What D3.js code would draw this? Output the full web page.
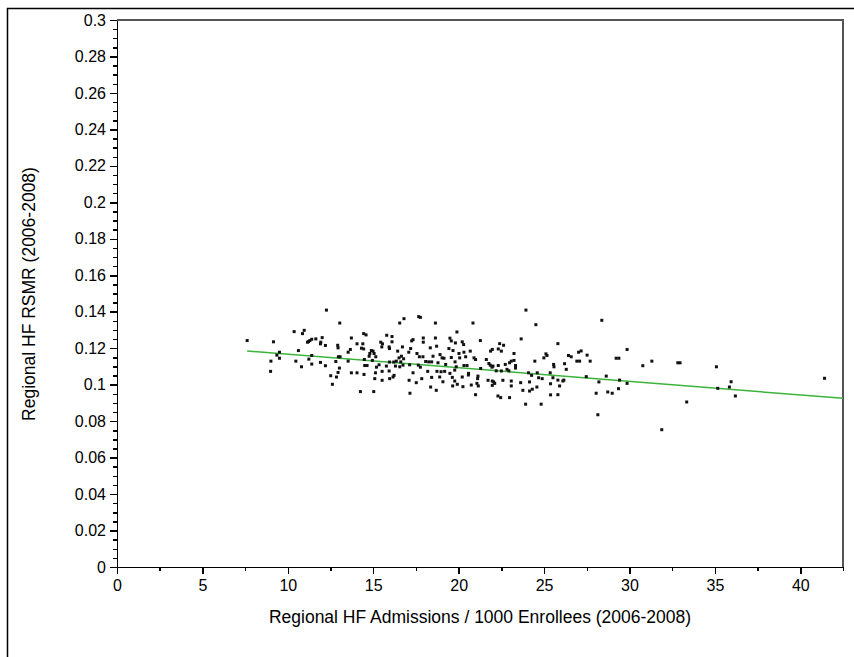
<!doctype html>
<html>
<head>
<meta charset="utf-8">
<title>Regional HF RSMR vs HF Admissions</title>
<script src="https://d3js.org/d3.v7.min.js"></script>
<style>
    body {margin:0; background:#fff;}
    svg {display:block;}
    text {font-family:"Liberation Sans", Arial, sans-serif; fill:#000;}
    .axis path, .axis line {stroke:#000; stroke-width:1.5px; shape-rendering:crispEdges;}
    .axis text {font-size:16px; font-family:"Liberation Sans", Arial, sans-serif;}
    .title {font-size:17.5px;}
</style>
</head>
<body>
<script>
"use strict";

// [admissions per 1000 enrollees, RSMR]
var regions = [
    [12.26,.1409],[13.04,.1338],[7.62,.1242],[9.16,.1235],[10.37,.1291],[10.96,.1298],[10.86,.1280],[11.40,.1249],
    [11.29,.1242],[11.15,.1233],[11.21,.1236],[11.64,.1251],[12.01,.1258],[11.93,.1233],[11.91,.1224],[12.20,.1215],
    [12.92,.1216],[12.94,.1202],[9.51,.1178],[9.36,.1162],[9.51,.1145],[10.62,.1187],[9.01,.1129],[10.47,.1129],
    [11.23,.1140],[11.40,.1160],[11.40,.1113],[10.80,.1098],[11.91,.1122],[12.20,.1104],[12.81,.1127],[12.96,.1153],
    [13.06,.1153],[13.02,.1091],[12.94,.1067],[12.51,.1049],[12.85,.1042],[12.61,.1002],[8.99,.1073],

    [16.55,.1338],[16.80,.1362],[17.66,.1373],[17.76,.1369],[18.64,.1338],
    [14.44,.1280],[14.58,.1273],[15.79,.1271],[16.10,.1264],[13.72,.1256],[17.33,.1247],[17.25,.1240],[17.93,.1256],
    [18.64,.1256],[19.49,.1255],[19.57,.1240],[19.90,.1289],[19.81,.1229],
    [15.44,.1233],[15.54,.1224],[16.10,.1235],[14.05,.1224],[14.39,.1224],[14.31,.1200],[14.44,.1196],[13.66,.1193],
    [13.53,.1178],[15.93,.1207],[15.50,.1207],[15.95,.1198],[16.71,.1207],[17.19,.1198],[17.93,.1233],[18.34,.1202],
    [18.71,.1211],[19.43,.1198],[19.67,.1187],
    [14.89,.1187],[14.99,.1184],[14.80,.1171],[15.05,.1171],[14.76,.1156],[15.15,.1153],[16.43,.1184],[17.08,.1178],
    [17.56,.1171],[17.70,.1153],[17.91,.1153],[18.50,.1156],[18.91,.1165],[19.03,.1147],[19.14,.1145],[19.57,.1149],
    [16.65,.1156],[16.78,.1142],[16.51,.1147],[16.35,.1129],[16.61,.1125],[15.95,.1124],[16.20,.1124],[14.48,.1138],
    [13.53,.1129],[14.95,.1133],
    [14.50,.1105],[14.64,.1105],[15.19,.1096],[15.34,.1109],[15.77,.1102],[16.30,.1102],[16.55,.1098],[16.74,.1107],
    [17.13,.1109],[17.64,.1107],[17.76,.1096],[18.07,.1127],[18.25,.1125],[18.42,.1125],[18.79,.1120],[19.24,.1111],
    [19.79,.1125],[19.86,.1098],
    [15.52,.1073],[15.13,.1065],[13.72,.1065],[14.05,.1065],[14.46,.1056],[15.93,.1075],[16.22,.1051],[16.16,.1042],
    [17.33,.1065],[18.19,.1073],[18.73,.1073],[18.97,.1071],[19.18,.1073],[19.49,.1062],[19.77,.1080],
    [15.09,.1033],[15.52,.1024],[15.96,.1033],[17.10,.1024],[17.52,.1011],[17.84,.1033],[18.42,.1040],[18.89,.1042],
    [19.63,.1040],[19.77,.1020],[19.08,.1016],[18.36,.0987],[18.69,.0969],[19.92,.1002],[19.65,.0993],
    [14.25,.0962],[15.03,.0962],[17.15,.0953],

    [23.94,.1409],[20.84,.1338],[24.52,.1329],[21.27,.1242],[23.66,.1251],[25.81,.1225],[20.21,.1235],[20.29,.1220],
    [22.40,.1225],[22.63,.1216],
    [20.02,.1171],[20.31,.1178],[20.68,.1184],[21.87,.1184],[21.97,.1193],[22.32,.1196],[22.50,.1184],[23.24,.1171],
    [25.11,.1169],[25.17,.1160],[26.43,.1160],
    [20.06,.1147],[20.41,.1153],[20.90,.1147],[20.99,.1138],[21.62,.1138],[21.77,.1116],[21.85,.1107],[22.73,.1111],
    [22.98,.1120],[23.08,.1129],[23.24,.1133],[23.33,.1105],[23.33,.1091],[24.46,.1129],[24.99,.1147],[25.56,.1111],
    [25.58,.1098],[26.20,.1115],
    [20.31,.1105],[20.49,.1105],[21.29,.1089],[21.95,.1096],[22.01,.1102],[22.32,.1105],[22.83,.1084],[22.20,.1076],
    [22.50,.1075],[22.94,.1076],[24.09,.1065],[24.60,.1065],[25.36,.1065],[26.30,.1084],
    [20.21,.1042],[20.57,.1053],[20.58,.1062],[21.13,.1047],[21.11,.1033],[21.72,.1024],[21.97,.1020],[22.05,.1015],
    [22.11,.1007],[22.59,.1024],[23.08,.1020],[23.63,.1011],[24.15,.1015],[24.27,.1051],[24.68,.1038],[24.89,.1033],
    [25.52,.1038],[25.81,.1025],[26.10,.1020],
    [20.25,.0989],[20.74,.0998],[21.07,.1007],[21.15,.0993],[21.97,.0996],[23.08,.0993],[23.76,.0969],[24.15,.0965],
    [24.31,.0975],[24.58,.0987],[25.38,.1005],[25.91,.0993],
    [20.99,.0945],[22.30,.0938],[22.46,.0929],[22.98,.0929],[25.38,.0944],[25.81,.0945],[23.92,.0893],[24.83,.0893],

    [28.38,.1353],[29.86,.1193],[26.59,.1153],[27.02,.1178],[27.17,.1185],[27.52,.1162],[27.70,.1129],[26.92,.1129],
    [27.08,.1129],[29.22,.1145],[29.38,.1145],[30.78,.1104],[31.31,.1129],[32.83,.1120],[26.16,.1025],[27.47,.1044],
    [28.64,.1047],[29.42,.1025],[28.21,.1015],[29.86,.1007],[28.05,.0953],[28.73,.0960],[28.99,.0953],[29.36,.0978],
    [28.15,.0835],[31.89,.0753],

    [32.96,.1120],[35.09,.1098],[35.95,.1016],[35.85,.0987],[35.17,.0980],[36.20,.0938],[33.35,.0905],[41.42,.1035]
];

// fitted line, two ends
var fitX = [7.62, 42.5];
var fitY = [0.1185, 0.0925];

var xTicks = [0, 5, 10, 15, 20, 25, 30, 35, 40];
var xMinorTicks = [2.5, 7.5, 12.5, 17.5, 22.5, 27.5, 32.5, 37.5, 42.5];
var yTicks = [0, 0.02, 0.04, 0.06, 0.08, 0.1, 0.12, 0.14, 0.16, 0.18, 0.2, 0.22, 0.24, 0.26, 0.28, 0.3];
var yTickLabels = ["0", "0.02", "0.04", "0.06", "0.08", "0.1", "0.12", "0.14", "0.16", "0.18", "0.2",
    "0.22", "0.24", "0.26", "0.28", "0.3"];

var width = 854, height = 657;
var plotLeft = 117, plotRight = 843, plotTop = 20, plotBottom = 567;

var svg = d3.select("body").append("svg")
    .attr("width", width)
    .attr("height", height);

var x = d3.scaleLinear().domain([0, 42.5]).range([plotLeft, plotRight]);
var y = d3.scaleLinear().domain([0, 0.3]).range([plotBottom, plotTop]);

// outer frame (only top and left show)
svg.append("path")
    .attr("d", "M7.5," + height + "V8.5H" + width)
    .attr("fill", "none")
    .attr("stroke", "#000")
    .attr("stroke-width", 1.5);

// plot frame top and right
svg.append("path")
    .attr("d", "M" + plotLeft + "," + plotTop + "H" + plotRight + "V" + plotBottom)
    .attr("fill", "none")
    .attr("stroke", "#555")
    .attr("stroke-width", 2);

// minor ticks first, then the labelled axes on top
svg.append("g")
    .attr("class", "axis")
    .attr("transform", "translate(" + plotLeft + ",0)")
    .call(d3.axisLeft(y).tickValues(d3.range(0, 0.3001, 0.005)).tickSize(4).tickFormat(""))
    .select(".domain").remove();

svg.append("g")
    .attr("class", "axis")
    .attr("transform", "translate(0," + plotBottom + ")")
    .call(d3.axisBottom(x).tickValues(xMinorTicks).tickSize(4).tickFormat(""))
    .select(".domain").remove();

svg.append("g")
    .attr("class", "axis")
    .attr("transform", "translate(" + plotLeft + ",0)")
    .call(d3.axisLeft(y).tickValues(yTicks).tickSize(7).tickSizeOuter(0).tickPadding(4)
        .tickFormat(function(d, i) { return yTickLabels[i]; }));

svg.append("g")
    .attr("class", "axis")
    .attr("transform", "translate(0," + plotBottom + ")")
    .call(d3.axisBottom(x).tickValues(xTicks).tickSize(7).tickSizeOuter(0).tickPadding(6));

// fit line
svg.append("line")
    .attr("x1", x(fitX[0])).attr("y1", y(fitY[0]))
    .attr("x2", x(fitX[1])).attr("y2", y(fitY[1]))
    .attr("stroke", "#3cb43c")
    .attr("stroke-width", 1.5);

// points
svg.append("g").selectAll("rect")
    .data(regions)
    .enter().append("rect")
    .attr("x", function(d) { return x(d[0]) - 1.5; })
    .attr("y", function(d) { return y(d[1]) - 1.5; })
    .attr("width", 3)
    .attr("height", 3)
    .attr("fill", "#111");

svg.append("text")
    .attr("class", "title")
    .attr("x", 480)
    .attr("y", 623)
    .attr("text-anchor", "middle")
    .text("Regional HF Admissions / 1000 Enrollees (2006-2008)");

svg.append("text")
    .attr("class", "title")
    .attr("transform", "translate(35,294) rotate(-90)")
    .attr("text-anchor", "middle")
    .text("Regional HF RSMR (2006-2008)");
</script>
</body>
</html>
